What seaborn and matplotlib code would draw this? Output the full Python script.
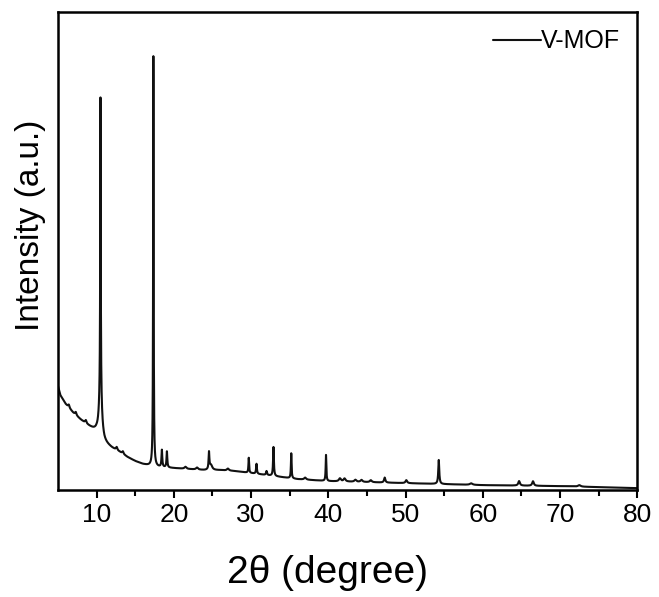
import numpy as np
import pandas as pd
import matplotlib
matplotlib.use("Agg")
import matplotlib.pyplot as plt
import seaborn as sns

# ---- data ----
# background anchors (2theta, intensity)
bg_theta = [5.0, 5.3, 6.0, 7.0, 8.0, 9.0, 10.0, 11.0, 12.0, 13.0, 14.0, 15.0, 16.0, 17.0,
            18.0, 20.0, 22.0, 24.0, 26.0, 28.0, 30.0, 32.0, 34.0, 36.0, 38.0, 40.0,
            45.0, 50.0, 55.0, 60.0, 65.0, 70.0, 75.0, 80.0]
bg_int = [104, 95, 86, 77, 70, 64, 58, 47, 42, 38, 33, 29, 26, 24,
          23, 22, 21, 20, 20, 19, 17, 15, 13, 11, 10, 9,
          8, 7, 6, 5, 4.5, 4, 3, 2]
# diffraction peaks: position, height above background, FWHM
peak_pos = [10.5, 10.5, 17.35, 18.45, 19.1, 24.55, 24.8, 29.7, 30.7, 32.0, 32.9, 35.2,
            39.7, 41.5, 42.1, 47.3, 50.1, 54.3, 64.7, 66.5,
            6.4, 7.3, 8.6, 12.6, 13.4, 21.5, 23.0, 27.0, 37.0, 43.5, 44.3, 45.5, 58.5, 72.5]
peak_h = [300, 40, 410, 17, 16, 17, 5, 15, 10, 4, 29, 25,
          26, 3, 3, 5, 3, 24, 4.5, 4.5,
          3, 3, 3, 3, 2.5, 2, 2, 2, 2, 2, 2, 2, 1.5, 1.5]
peak_w = [0.08, 0.45, 0.08, 0.12, 0.12, 0.12, 0.4, 0.1, 0.12, 0.15, 0.12, 0.1,
          0.1, 0.3, 0.3, 0.2, 0.25, 0.15, 0.25, 0.25,
          0.2, 0.2, 0.2, 0.2, 0.2, 0.3, 0.3, 0.3, 0.3, 0.3, 0.3, 0.3, 0.4, 0.4]
legend_label = "V-MOF"
x_ticks = [10, 20, 30, 40, 50, 60, 70, 80]

# ---- build the pattern from the read values ----
theta = np.arange(5.0, 80.0001, 0.01)
intensity = np.interp(theta, bg_theta, bg_int)
for p, h, w in zip(peak_pos, peak_h, peak_w):
    intensity = intensity + h / (1 + ((theta - p) / (w / 2)) ** 2)
df = pd.DataFrame({"theta": theta, "intensity": intensity})

sns.set_theme(style="white")
plt.rcParams["font.family"] = ["Liberation Sans", "DejaVu Sans"]
plt.rcParams["text.color"] = "black"
plt.rcParams["axes.labelcolor"] = "black"

fig = plt.figure(figsize=(6.59, 5.97), dpi=100)
ax = fig.add_axes([0.088, 0.179, 0.879, 0.801])
sns.lineplot(data=df, x="theta", y="intensity", color="#111111", linewidth=1.5,
             ax=ax, label=legend_label)

ax.set_xlim(5, 80)
ax.set_ylim(0, 478)
ax.set_xticks(x_ticks)
ax.set_xticks(np.arange(15, 80, 10), minor=True)
ax.set_yticks([])
ax.tick_params(axis="x", which="major", direction="out", length=6, width=1.5,
               labelsize=19, bottom=True, pad=3, colors="black")
ax.tick_params(axis="x", which="minor", direction="out", length=4, width=1.5,
               bottom=True, colors="black")
for s in ax.spines.values():
    s.set_linewidth(1.8)
    s.set_color("black")
ax.set_xlabel("2θ (degree)", fontsize=28)
ax.set_ylabel("Intensity (a.u.)", fontsize=24)
ax.xaxis.set_label_coords(0.466, -0.135)
ax.yaxis.set_label_coords(-0.02, 0.554)
leg = ax.legend(loc="upper right", frameon=False, fontsize=18, handlelength=1.9,
                handletextpad=0.0, borderaxespad=0.3)
for t in leg.get_texts():
    t.set_color("black")
fig.savefig("out.png", dpi=100)
